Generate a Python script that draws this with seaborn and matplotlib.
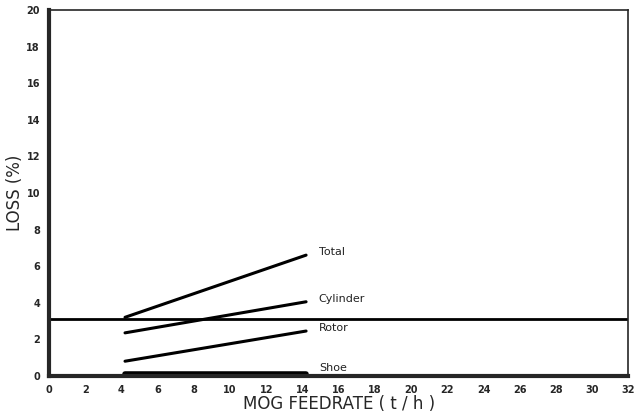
import numpy as np
import pandas as pd
import matplotlib
matplotlib.use("Agg")
import matplotlib.pyplot as plt
import seaborn as sns

series = ["Total", "Cylinder", "Rotor", "Shoe"]
feedrate = [4.2, 14.2]
total = [3.2, 6.6]
cylinder = [2.35, 4.05]
rotor = [0.8, 2.45]
shoe = [0.1, 0.1]
reference_level = 3.1
x_ticks = list(range(0, 33, 2))
y_ticks = list(range(0, 21, 2))

rows = []
for name, vals in zip(series, [total, cylinder, rotor, shoe]):
    for x, y in zip(feedrate, vals):
        rows.append({"feedrate": x, "loss": y, "series": name})
df = pd.DataFrame(rows)

sns.set_style("white")
fig = plt.figure(figsize=(6.36, 4.19), dpi=100)
ax = fig.add_axes([0.077, 0.103, 0.911, 0.873])

palette = {s: "black" for s in series}
sns.lineplot(data=df, x="feedrate", y="loss", hue="series", palette=palette,
             ax=ax, legend=False, linewidth=2.2)
ax.lines[-1].set_linewidth(4)
ax.axhline(reference_level, color="black", linewidth=2)

for name, vals in zip(series, [total, cylinder, rotor, shoe]):
    yoff = 0.15 if name != "Shoe" else 0.35
    ax.text(feedrate[-1] + 0.7, vals[-1] + yoff, name, fontsize=8,
            ha="left", va="center", color="#222222")

ax.set_xlim(0, 32)
ax.set_ylim(0, 20)
ax.set_xticks(x_ticks)
ax.set_yticks(y_ticks)
ax.tick_params(axis="both", labelsize=7, length=3, direction="out", width=1.5)
for lab in ax.get_xticklabels() + ax.get_yticklabels():
    lab.set_fontweight("bold")
    lab.set_fontfamily("Liberation Sans Narrow")
ax.set_xlabel("MOG FEEDRATE ( t / h )", fontsize=12, labelpad=0)
ax.set_ylabel("LOSS (%)", fontsize=12, labelpad=2)
for side in ["left", "bottom"]:
    ax.spines[side].set_linewidth(3)
for side in ["top", "right"]:
    ax.spines[side].set_linewidth(1.2)
    ax.spines[side].set_visible(True)

fig.savefig("out.png", dpi=100)
